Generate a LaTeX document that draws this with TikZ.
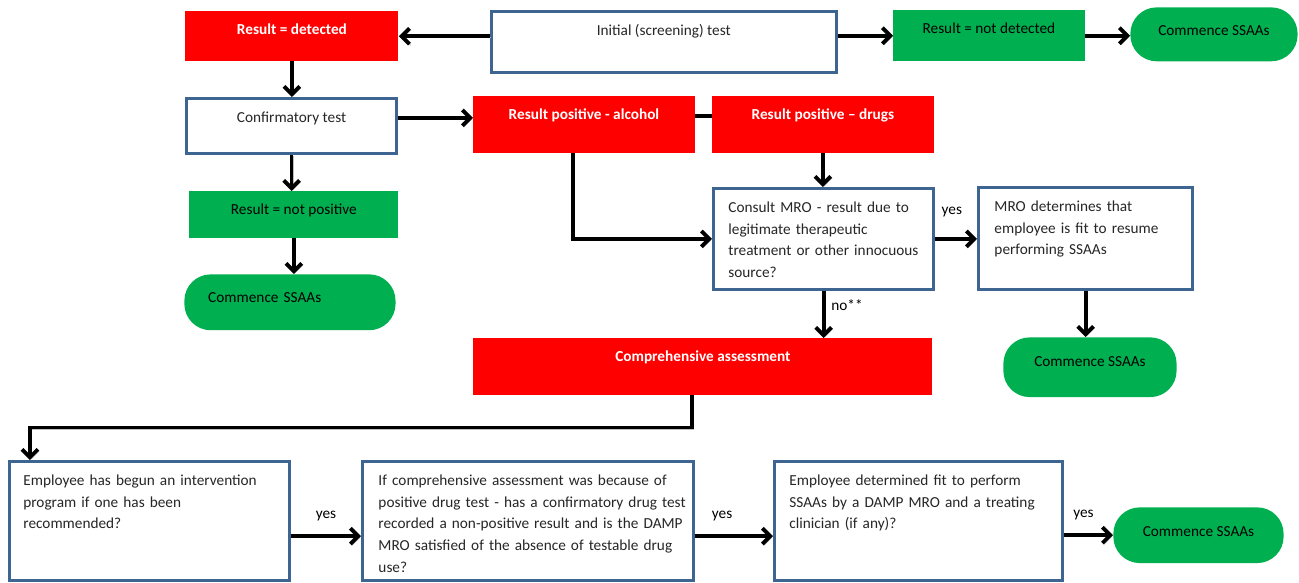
\documentclass[tikz,border=0pt]{standalone}
\usepackage{fontspec}
\setmainfont{Carlito}
\usetikzlibrary{arrows.meta}

\definecolor{alarmred}{RGB}{255,0,0}
\definecolor{okgreen}{RGB}{0,176,80}
\definecolor{frameblue}{RGB}{62,100,146}
\newcommand{\flowfont}{\fontsize{8.7pt}{12.5pt}\selectfont}

\tikzset{
  every node/.style={font=\flowfont},
  box/.style={anchor=north west, inner ysep=0pt, text height=13.4pt},
  redbox/.style={box, fill=alarmred, text=white, font=\flowfont\bfseries},
  greenbox/.style={box, fill=okgreen, text=black},
  bluebox/.style={box, draw=frameblue, line width=1.7pt, fill=white, text=black!85},
  leftpad/.style={inner xsep=0pt, align=left, execute at begin node={\leftskip=#1}},
  endbox/.style={anchor=north west, inner sep=0pt, fill=okgreen, rounded corners=15pt, text=black},
  arr/.style={line width=2.2pt, -{Straight Barb[length=4.5pt,width=9pt]},
    preaction={draw=black!25, transform canvas={shift={(0.8pt,-0.8pt)}}}},
  flat/.style={line width=2.2pt}
}

\begin{document}
\begin{tikzpicture}[x=0.02cm, y=-0.02cm]
\useasboundingbox (0,0) rectangle (1299,582);

% first row
\node[redbox, minimum width=121.3pt, text depth=14.9pt] (det) at (185,11) {Result = detected};
\node[bluebox, minimum width=196.1pt, text depth=21.2pt] (init) at (490,10) {Initial (screening) test};
\node[greenbox, minimum width=108.8pt, text depth=15.5pt] (notdet) at (893,10) {Result = not detected};
\node[endbox, minimum width=95.2pt, text height=16.2pt, text depth=14.5pt] (end1) at (1130,7) {Commence SSAAs};

% second row
\node[bluebox, minimum width=119.6pt, text depth=17.8pt] (conf) at (185,97) {Confirmatory test};
\node[redbox, minimum width=125.9pt, text depth=18.9pt] (alc) at (473,96) {Result positive - alcohol};
\node[redbox, minimum width=125.9pt, text depth=18.9pt] (drg) at (712,96) {Result positive -- drugs};

% middle
\node[bluebox, leftpad=8.5pt, text width=125.3pt, text depth=43.9pt] (cons) at (712,187)
  {Consult MRO - result due to\\legitimate therapeutic\\treatment or other innocuous\\source?};
\node[bluebox, leftpad=9.1pt, text width=121.9pt, text depth=44.4pt] (mrof) at (977,186)
  {MRO determines that\\employee is fit to resume\\performing SSAAs};
\node[greenbox, minimum width=119pt, text depth=13.2pt] (notpos) at (189,191) {Result = not positive};
\node[endbox, leftpad=13.6pt, text width=120.2pt, text height=16.2pt, text depth=15.6pt] (end2) at (184,274) {Commence SSAAs};
\node[redbox, minimum width=261.3pt, text depth=18.9pt] (comp) at (473,338) {Comprehensive assessment};
\node[endbox, minimum width=98.6pt, text height=16.7pt, text depth=17.3pt] (end3) at (1003,337) {Commence SSAAs};

% bottom row
\node[bluebox, leftpad=7.9pt, text width=159.3pt, text depth=54.6pt] (empl) at (8,460)
  {Employee has begun an intervention\\program if one has been\\recommended?};
\node[bluebox, leftpad=9.1pt, text width=188.2pt, text depth=54.6pt] (ifc) at (361,460)
  {If comprehensive assessment was because of\\positive drug test - has a confirmatory drug test\\recorded a non-positive result and is the DAMP\\MRO satisfied of the absence of testable drug\\use?};
\node[bluebox, leftpad=8.5pt, text width=163.8pt, text depth=54.6pt] (fitp) at (773,460)
  {Employee determined fit to perform\\SSAAs by a DAMP MRO and a treating\\clinician (if any)?};
\node[endbox, minimum width=96.9pt, text height=16.7pt, text depth=15pt] (end4) at (1113,507) {Commence SSAAs};

% connectors
\draw[arr] (init.west |- det.east) -- (det.east);
\draw[arr] (init.east |- notdet.west) -- (notdet.west);
\draw[arr] (notdet.east) -- (notdet.east -| end1.west);
\draw[arr] (det.south) -- (det.south |- conf.north);
\draw[arr] (conf.mid east) -- (conf.mid east -| alc.west);
\draw[flat] (alc.mid east) -- (drg.mid west);
\draw[arr] (drg.south) -- (drg.south |- cons.north);
\draw[arr] ([xshift=-6pt]alc.south) |- (cons.west);
\draw[arr] (cons.east) -- (cons.east -| mrof.west) node[pos=0.4, above=8pt] {yes};
\draw[arr] (cons.south) -- (cons.south |- comp.north) node[pos=0.3, right] {no**};
\draw[arr] (mrof.south) -- (mrof.south |- end3.north);
\draw[arr] (conf.south) -- (conf.south |- notpos.north);
\draw[arr] (notpos.south) -- (notpos.south |- end2.north);
\draw[arr] ([xshift=-6pt]comp.south) -- ++(0,32) -| ([xshift=12.5pt]empl.north west);
\draw[arr] ([yshift=-8.5pt]empl.east) -- ([yshift=-8.5pt]empl.east -| ifc.west) node[midway, above=4pt] {yes};
\draw[arr] ([yshift=-8.5pt]ifc.east) -- ([yshift=-8.5pt]ifc.east -| fitp.west) node[pos=0.35, above=4pt] {yes};
\draw[arr] (fitp.east |- end4.west) -- (end4.west) node[pos=0.4, above=4pt] {yes};
\end{tikzpicture}
\end{document}
